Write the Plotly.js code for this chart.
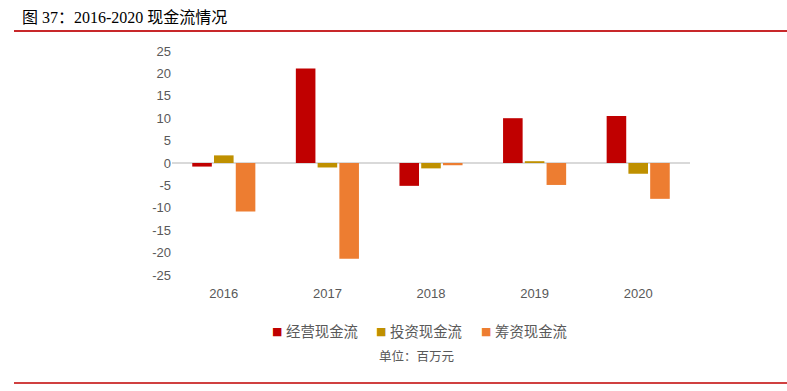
<!DOCTYPE html>
<html><head><meta charset="utf-8">
<script src="https://cdn.plot.ly/plotly-3.0.1.min.js"></script>
<style>html,body{margin:0;padding:0;background:#fff}#c{width:787px;height:391px}</style>
</head><body><div id="c"></div>
<script>
const years = ['2016','2017','2018','2019','2020'];
const operating = [-0.8, 21.1, -5.1, 10.0, 10.5];
const investing = [1.7, -1.0, -1.2, 0.4, -2.4];
const financing = [-10.8, -21.4, -0.5, -4.9, -8.0];
const seriesNames = ['经营现金流','投资现金流','筹资现金流'];
const yTicks = [25,20,15,10,5,0,-5,-10,-15,-20,-25];
const colors = ['#C00000','#BF9000','#ED7D31'];
const vals = [operating, investing, financing];
const traces = vals.map((v,i)=>({type:'bar', x:years, y:v, name:seriesNames[i], marker:{color:colors[i]}}));
const px = x => (x-172)/518;
const py = y => (275-y)/224;
const legendX = [277, 381, 486];
const legendAnn = [];
seriesNames.forEach((n,i)=>{
  legendAnn.push({text:'■', xref:'paper', yref:'paper', x:px(legendX[i]), y:py(331), showarrow:false, xanchor:'center', yanchor:'middle', font:{size:11, color:colors[i], family:'"DejaVu Sans", sans-serif'}});
  legendAnn.push({text:n, xref:'paper', yref:'paper', x:px(legendX[i]+7), y:py(330), showarrow:false, xanchor:'left', yanchor:'middle', font:{size:14.4, color:'#595959', family:'"Noto Sans CJK SC", sans-serif'}});
});
const layout = {
  width:787, height:391,
  margin:{l:172, r:97, t:51, b:116},
  paper_bgcolor:'#fff', plot_bgcolor:'#fff',
  font:{family:'"Liberation Sans", "Noto Sans CJK SC", sans-serif', color:'#595959'},
  barmode:'group', bargap:0.37, bargroupgap:0.1,
  title:{text:'图 37：2016-2020 现金流情况', x:22/787, xanchor:'left', xref:'container', y:1-17/391, yanchor:'middle', yref:'container',
    font:{family:'"Liberation Serif", "Noto Sans CJK SC", serif', size:16, color:'#000'}},
  xaxis:{type:'category', showline:false, showgrid:false, ticks:'', ticklabelstandoff:9, tickfont:{size:13, color:'#595959'}},
  yaxis:{range:[-25,25], tickvals:yTicks, ticktext:yTicks.map(String), showgrid:false, showline:false, zeroline:true, zerolinecolor:'#D9D9D9', zerolinewidth:2, tickfont:{size:13, color:'#595959'}, ticks:''},
  showlegend:false,
  shapes:[
    {type:'line', xref:'paper', yref:'paper', x0:px(14), x1:px(787), y0:py(31), y1:py(31), line:{color:'#C8282A', width:2}},
    {type:'line', xref:'paper', yref:'paper', x0:px(14), x1:px(787), y0:py(383), y1:py(383), line:{color:'#C00000', width:1.5}}
  ],
  annotations:legendAnn.concat([
    {text:'单位：百万元', xref:'paper', yref:'paper', x:px(416), y:py(355), showarrow:false, xanchor:'center', yanchor:'middle', font:{size:12.5, color:'#595959', family:'"Noto Sans CJK SC", sans-serif'}}
  ])
};
Plotly.newPlot('c', traces, layout, {staticPlot:true});
</script></body></html>
